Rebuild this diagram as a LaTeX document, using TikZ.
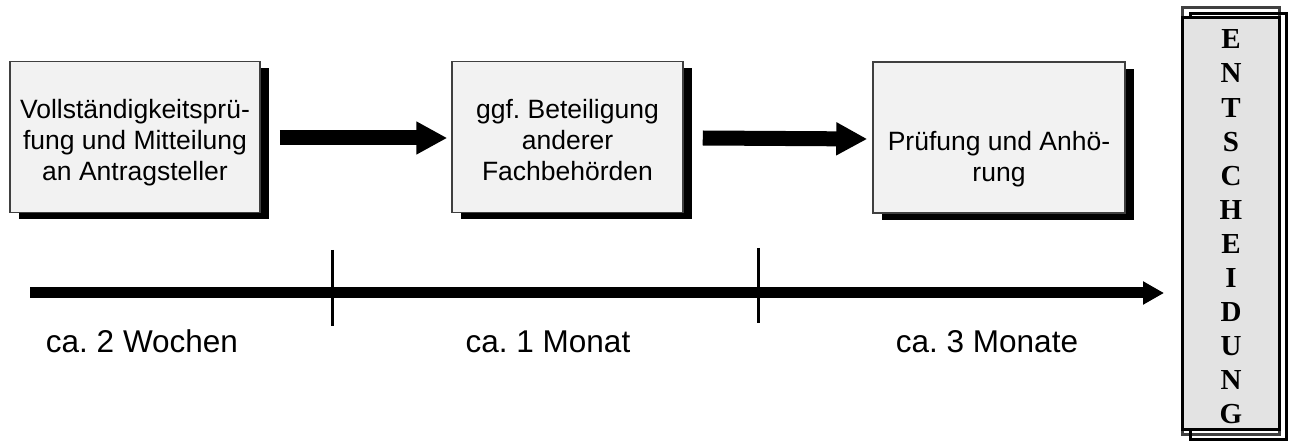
\documentclass[tikz,border=0pt]{standalone}
\usepackage{fontspec}
\setmainfont{Liberation Sans}
\newfontfamily\serifbold{Liberation Serif}
\newcommand{\topstrut}{\rule{0pt}{34pt}}
\newcommand{\botstrut}{\rule[-8pt]{0pt}{8pt}}
\frenchspacing
\usetikzlibrary{arrows.meta,shadows}
\begin{document}
\begin{tikzpicture}[x=1pt,y=-1pt,
  stepbox/.style={draw=black!75,line width=1.5pt,fill=black!5,align=center,
    inner sep=0pt,minimum height=151pt,
    font=\fontsize{26.5}{31}\selectfont,
    drop shadow={shadow xshift=9pt,shadow yshift=-7pt,fill=black,opacity=1}},
  blockarrow/.style={line width=15pt,-{Triangle[length=31pt,width=31pt]}},
  timeline/.style={line width=11pt,-{Triangle[length=21pt,width=22pt]}},
  tick/.style={line width=3pt},
  durlabel/.style={anchor=base,inner sep=0pt,font=\fontsize{31.5}{38}\selectfont}]
\useasboundingbox (0,0) rectangle (1298,443);
% process boxes
\node[stepbox,minimum width=250pt] (b1) at (135,137)
  {\topstrut Vollständigkeitsprü-\\fung und Mitteilung\\an Antragsteller\botstrut};
\node[stepbox,minimum width=231pt] (b2) at (567.5,137)
  {\topstrut ggf. Beteiligung\\anderer\\Fachbehörden\botstrut};
\node[stepbox,minimum width=252pt] (b3) at (999,137.5)
  {\topstrut\\Prüfung und Anhö-\\rung\botstrut};
% block arrows
\draw[blockarrow] ([xshift=19pt,yshift=-1pt]b1.east) -- ([xshift=-4pt,yshift=-1pt]b2.west);
\draw[blockarrow] ([xshift=19pt,yshift=-1pt]b2.east) -- ([xshift=-5pt,yshift=-1.5pt]b3.west);
% timeline
\coordinate (t0) at (30,293);
\coordinate (t1) at (1164,293);
\draw[timeline] (t0) -- (t1);
\coordinate (k1a) at (332,250);
\coordinate (k1b) at (332,326);
\coordinate (k2a) at (758,248);
\coordinate (k2b) at (758,323);
\draw[tick] (k1a) -- (k1b);
\draw[tick] (k2a) -- (k2b);
\node[durlabel] (d1) at (142,353) {ca. 2 Wochen};
\node[durlabel] (d2) at (548,353) {ca. 1 Monat};
\node[durlabel] (d3) at (987,353) {ca. 3 Monate};
% decision box
\draw[black!75,line width=3pt] (1182,8) rectangle (1279,434);
\draw[black,line width=3pt] (1190,14) rectangle (1286,439);
\node[draw=black,line width=3pt,fill=black!11,minimum width=97pt,minimum height=412pt,inner sep=0pt] (ent) at (1231,223.5) {};
\node[align=center,inner sep=0pt,font=\serifbold\bfseries\fontsize{29}{34.1}\selectfont] (entt) at (1231,227)
  {E\\N\\T\\S\\C\\H\\E\\I\\D\\U\\N\\G};
\end{tikzpicture}
\end{document}
